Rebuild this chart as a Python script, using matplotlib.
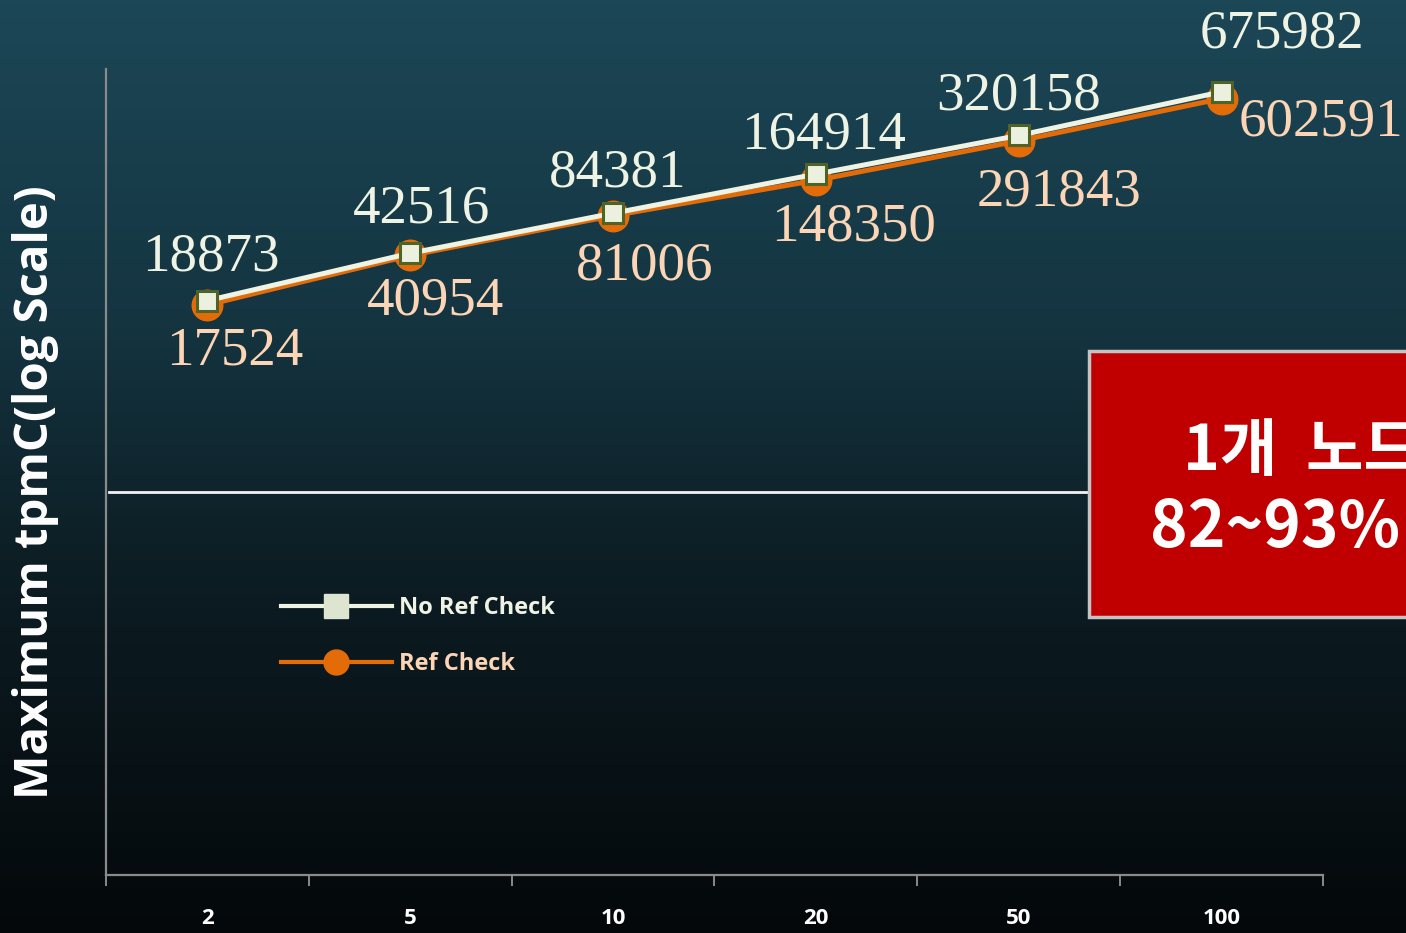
import numpy as np
import matplotlib
matplotlib.use("Agg")
import matplotlib.pyplot as plt
from matplotlib.lines import Line2D
from matplotlib.patches import Rectangle
from matplotlib.colors import LinearSegmentedColormap

# ---------------- data ----------------
categories = ["2", "5", "10", "20", "50", "100"]
no_ref_check = [18873, 42516, 84381, 164914, 320158, 675982]
ref_check = [17524, 40954, 81006, 148350, 291843, 602591]
series_names = ["No Ref Check", "Ref Check"]
y_label = "Maximum tpmC(log Scale)"
box_lines = ["1개 노드", "82~93%"]

# ---------------- layout / style ----------------
W, H = 1406, 933
fig = plt.figure(figsize=(W / 100, H / 100), dpi=100)

# background gradient
bg = fig.add_axes([0, 0, 1, 1], zorder=-10)
cmap = LinearSegmentedColormap.from_list(
    "bg", [(0.0, "#1c4757"), (0.35, "#143440"), (0.6, "#0d1e25"), (1.0, "#04080a")])
grad = np.linspace(0, 1, 256).reshape(-1, 1)
bg.imshow(grad, aspect="auto", cmap=cmap, extent=[0, 1, 0, 1], origin="upper")
bg.set_axis_off()

ax_l, ax_r, ax_t, ax_b = 106, 1323, 69, 875
ax = fig.add_axes([ax_l / W, 1 - ax_b / H, (ax_r - ax_l) / W, (ax_b - ax_t) / H])
ax.set_facecolor("none")

x = np.arange(len(categories))
WHITE = "#eef3e3"
ORANGE = "#e36c09"
LBL_W = "#eef3e3"
LBL_O = "#fbd5b5"
SANS = "Open Sans"

ax.plot(x, ref_check, color=ORANGE, lw=3.6, marker="o", markersize=22,
        markerfacecolor=ORANGE, markeredgecolor=ORANGE, zorder=3, solid_capstyle="round")
ax.plot(x, no_ref_check, color=WHITE, lw=3.6, marker="s", markersize=15,
        markerfacecolor="#ebf1de", markeredgecolor="#4f6228", markeredgewidth=2.2, zorder=4)

ax.set_yscale("log")
ax.set_ylim(1, 1e6)
ax.set_xlim(-0.5, len(categories) - 0.5)

# data labels (pixel offsets of label centres from markers)
off_top = [(3, 48), (11, 49), (5, 45), (8, 44), (0, 44), (60, 62)]
off_bot = [(27, -42), (25, -41), (32, -46), (38, -42), (40, -47), (99, -19)]
serif = "Liberation Serif"
for i in range(len(categories)):
    dx, dy = off_top[i]
    ax.annotate(f"{no_ref_check[i]}", (x[i], no_ref_check[i]), xytext=(dx, dy - 18),
                textcoords="offset pixels", ha="center", va="baseline",
                fontsize=39.5, family=serif, color=LBL_W, zorder=6, annotation_clip=False)
    dx, dy = off_bot[i]
    ax.annotate(f"{ref_check[i]}", (x[i], ref_check[i]), xytext=(dx, dy - 18),
                textcoords="offset pixels", ha="center", va="baseline",
                fontsize=39.5, family=serif, color=LBL_O, zorder=6, annotation_clip=False)

# axes styling
for s in ["top", "right"]:
    ax.spines[s].set_visible(False)
for s in ["left", "bottom"]:
    ax.spines[s].set_color("#8a8a8a")
    ax.spines[s].set_linewidth(1.6)
ax.set_yticks([])
ax.yaxis.set_minor_locator(matplotlib.ticker.NullLocator())
ax.set_xticks(x)
ax.set_xticklabels(categories, fontsize=16, fontweight="bold", family=SANS, color="white")
ax.set_xticks(np.arange(-0.5, len(categories)), minor=True)
ax.tick_params(axis="x", which="major", length=0, pad=24)
ax.tick_params(axis="x", which="minor", length=8, width=1.4, color="#8a8a8a", direction="out")

fig.text(36 / W, 1 - 492 / H, y_label, rotation=90, ha="center", va="center",
         fontsize=34, fontweight="bold", family=SANS, color="white")

# decorative horizontal line
fig.add_artist(Line2D([109 / W, 1089 / W], [1 - 492 / H, 1 - 492 / H],
                      transform=fig.transFigure, color="#f2f2f2", lw=2.0, zorder=2))

# legend
handles = [
    Line2D([], [], color=WHITE, lw=3, marker="s", markersize=17,
           markerfacecolor="#dde5d0", markeredgecolor="#dde5d0"),
    Line2D([], [], color=ORANGE, lw=3, marker="o", markersize=18,
           markerfacecolor=ORANGE, markeredgecolor=ORANGE),
]
leg = ax.legend(handles, series_names, loc="upper left",
                bbox_to_anchor=(281 / W, 1 - 596 / H), bbox_transform=fig.transFigure,
                frameon=False, borderpad=0, borderaxespad=0, handlelength=4.7,
                handletextpad=0.28, labelspacing=1.35,
                prop={"family": SANS, "weight": "bold", "size": 17})
leg.get_texts()[0].set_color(LBL_W)
leg.get_texts()[1].set_color(LBL_O)

# red callout box
box = Rectangle((1089 / W, 1 - 617 / H), (1420 - 1089) / W, (617 - 351) / H,
                transform=fig.transFigure, facecolor="#c00000", edgecolor="#c4c4c4",
                lw=2.5, zorder=5)
fig.add_artist(box)
cjk = ["Noto Sans CJK KR", "DejaVu Sans"]
fig.text(1183 / W, 1 - 470 / H, box_lines[0].replace(" ", "  "), ha="left", va="baseline",
         fontsize=45, fontweight="bold", family=cjk, color="white", zorder=6)
fig.text(1150 / W, 1 - 547 / H, box_lines[1], ha="left", va="baseline", fontsize=46,
         fontweight="bold", family=cjk, color="white", zorder=6)

fig.savefig("out.png", dpi=100)
